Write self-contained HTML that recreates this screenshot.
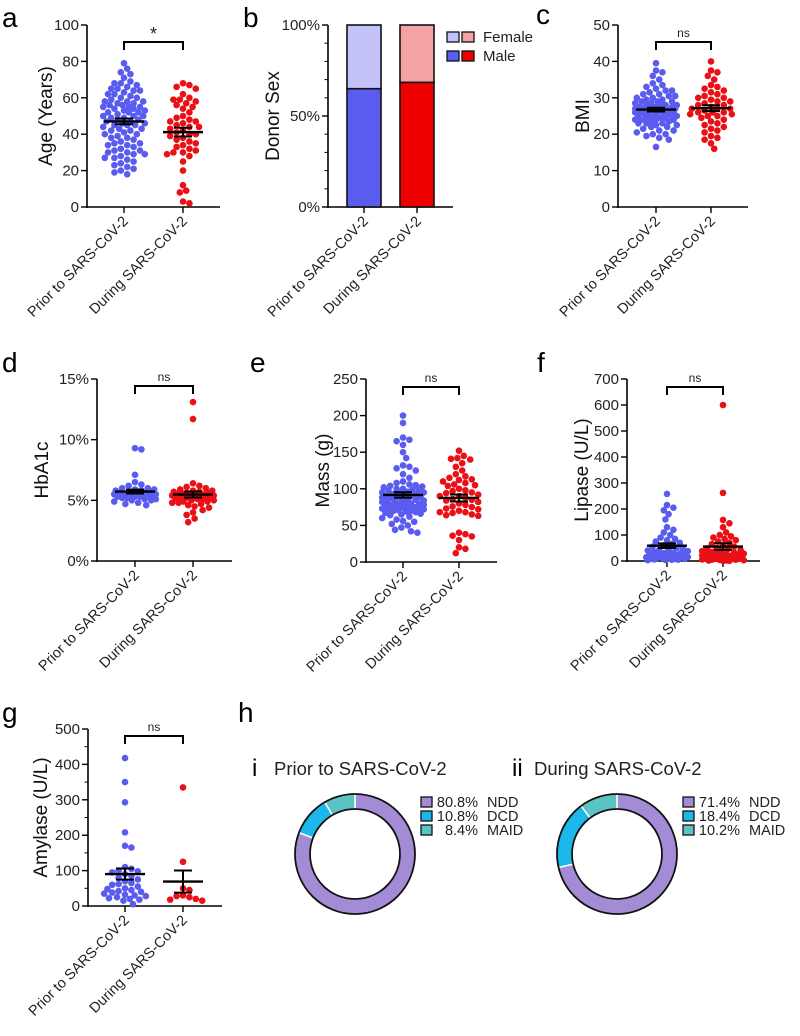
<!DOCTYPE html>
<html><head><meta charset="utf-8">
<style>
html,body{margin:0;padding:0;background:#fff;}
svg{display:block;font-family:"Liberation Sans",Arial,sans-serif;}
</style></head>
<body>
<svg id="fig" width="800" height="1036" viewBox="0 0 800 1036" xmlns="http://www.w3.org/2000/svg"></svg>
<script>
// ---- data ----
const categories = ["Prior to SARS-CoV-2", "During SARS-CoV-2"];
const ageBlue = [79,76,74,73,71,69,68,68,67,66,65,65,64,63,62,61,60,60,59,58,58,57,57,56,56,55,55,54,54,53,53,52,52,51,50,50,49,49,48,48,47,46,46,45,45,44,43,43,42,41,40,40,39,38,37,36,35,34,34,33,32,31,30,30,29,28,27,27,26,25,24,23,22,21,20,19,18,64,62,58,55,52,50,47,45,42,38,35,31,29];
const ageRed = [68,67,66,65,62,60,59,59,58,57,56,55,54,52,50,49,48,47,46,45,44,43,42,41,40,40,39,38,37,36,35,34,33,32,31,30,30,29,28,25,20,12,9,8,3,2,47,44];
const sexMale = [65, 68.5];
const sexFemale = [35, 31.5];
const bmiBlue = [39.5,37.5,37,36,35,34,33.5,33,32.5,32,32,31.5,31,31,30.5,30.5,30,30,29.5,29.5,29,29,29,28.5,28.5,28,28,28,27.5,27.5,27.5,27,27,27,27,26.5,26.5,26.5,26,26,26,26,25.5,25.5,25.5,25,25,25,24.5,24.5,24.5,24,24,24,23.5,23.5,23,23,22.5,22.5,22,22,21.5,21,21,20.5,20,20,19.5,19,18.5,16.5,28,27,26,25,24,23];
const bmiRed = [40,37.5,37,36,35,33.5,33,32.5,32,31.5,31,30.5,30,30,29.5,29,28.5,28,28,27.5,27,27,26.5,26,26,25.5,25.5,25,25,24.5,24,23.5,23,22.5,22,21.5,21,20.5,19.5,19,18.5,17.5,16,29,27,26];
const hbaBlue = [9.3,9.2,7.1,6.5,6.3,6.2,6.0,6.0,5.9,5.9,5.8,5.8,5.7,5.7,5.7,5.6,5.6,5.6,5.5,5.5,5.5,5.5,5.4,5.4,5.4,5.3,5.3,5.3,5.2,5.2,5.1,5.1,5.0,5.0,4.9,4.8,4.7,4.6];
const hbaRed = [13.1,11.7,6.4,6.2,6.1,6.0,5.9,5.8,5.8,5.7,5.7,5.6,5.6,5.5,5.5,5.5,5.4,5.4,5.4,5.3,5.3,5.3,5.2,5.2,5.2,5.1,5.1,5.0,5.0,4.9,4.9,4.8,4.8,4.7,4.6,4.5,4.4,4.2,4.0,3.8,3.5,3.2,5.6,5.4,5.2];
const massBlue = [200,190,170,167,165,160,150,142,132,130,128,125,120,115,110,108,106,105,104,103,102,100,100,99,98,97,96,95,94,93,92,91,90,90,89,88,87,86,85,85,84,83,82,81,80,80,79,78,77,76,75,75,74,73,72,72,71,70,70,69,68,67,66,65,64,62,60,58,56,55,52,50,47,44,42,40,95,88,82,78,74];
const massRed = [152,145,142,141,140,135,130,125,120,117,115,113,112,110,108,106,105,104,100,98,97,95,94,92,90,90,88,86,85,84,82,80,78,76,75,73,72,70,68,68,67,65,64,63,40,38,36,35,30,20,18,12];
const lipBlue = [258,215,205,195,180,160,130,120,110,100,90,85,80,75,70,65,60,55,50,48,45,42,40,38,35,32,30,28,26,25,22,20,18,16,15,14,12,10,10,8,8,6,5,5,4,3,25,20,15,12];
const lipRed = [600,262,158,145,130,110,100,95,90,85,80,75,70,65,60,55,50,48,45,42,40,38,35,32,30,28,26,25,22,20,18,16,15,14,12,10,10,8,8,6,5,5,4,3,2,2,1,1,30,25,20,15];
const amyBlue = [418,350,293,208,170,165,110,105,100,98,95,90,85,80,75,70,65,62,60,55,50,48,45,42,40,38,35,32,30,28,25,22,20,18,15,5];
const amyRed = [335,125,50,45,30,28,25,20,18,15];
const donutLabels = ["NDD","DCD","MAID"];
const donutPrior = [80.8,10.8,8.4];
const donutDuring = [71.4,18.4,10.2];
const ageTicks = [0,20,40,60,80,100];
const sexTicks = ["0%","50%","100%"];
const bmiTicks = [0,10,20,30,40,50];
const hbaTicks = ["0%","5%","10%","15%"];
const massTicks = [0,50,100,150,200,250];
const lipTicks = [0,100,200,300,400,500,600,700];
const amyTicks = [0,100,200,300,400,500];

const NS = "http://www.w3.org/2000/svg";
const svg = document.getElementById('fig');
const BLUE = "#5a5cf0", RED = "#ea1016";
function el(tag, attrs, parent, text) {
  const e = document.createElementNS(NS, tag);
  for (const k in attrs) e.setAttribute(k, attrs[k]);
  if (text !== undefined) e.textContent = text;
  (parent || svg).appendChild(e);
  return e;
}

function axes(g, cfg) {
  const ys = v => cfg.yBot - (v / cfg.max) * (cfg.yBot - cfg.yTop);
  const yax = el('line', {x1: cfg.x0, y1: cfg.yTop, x2: cfg.x0, y2: cfg.yBot + 1, stroke: '#000', 'stroke-width': 1.6}, g);
  
  
  const xax = el('line', {x1: cfg.x0, y1: cfg.yBot, x2: cfg.xEnd, y2: cfg.yBot, stroke: '#000', 'stroke-width': 1.6}, g);
  
  
  cfg.tickVals.forEach((v, i) => {
    const y = ys(v);
    el('line', {x1: cfg.x0 - 6, y1: y, x2: cfg.x0, y2: y, stroke: '#000', 'stroke-width': 1.4}, g);
    const t = el('text', {x: cfg.x0 - 8, y: y + 5, 'font-size': 15, 'text-anchor': 'end', fill: '#222'}, g, cfg.ticks[i]);
    
    
  });
  if (cfg.minor) {
    for (let v = 0; v <= cfg.max + 1e-9; v += cfg.minor) {
      el('line', {x1: cfg.x0 - 3.5, y1: ys(v), x2: cfg.x0, y2: ys(v), stroke: '#000', 'stroke-width': 1}, g);
    }
  }
  cfg.cats.forEach((cx, i) => {
    el('line', {x1: cx, y1: cfg.yBot, x2: cx, y2: cfg.yBot + 6, stroke: '#000', 'stroke-width': 1.4}, g);
    const lx = cx + 5, ly = cfg.yBot + 15;
    const t = el('text', {x: lx, y: ly, 'font-size': 14.5, 'text-anchor': 'end', fill: '#222', transform: `rotate(-45 ${lx} ${ly})`}, g, categories[i]);
    
    
  });
  const tt = el('text', {x: cfg.titleX, y: (cfg.yTop + cfg.yBot) / 2, 'font-size': 19, 'text-anchor': 'middle', fill: '#111', transform: `rotate(-90 ${cfg.titleX} ${(cfg.yTop + cfg.yBot) / 2})`}, g, cfg.title);
  
  
  const pl = el('text', {x: cfg.letterX, y: cfg.letterY, 'font-size': 28, fill: '#000'}, g, cfg.letter);
  
  
  return ys;
}

function swarm(g, vals, cx, ys, color) {
  const r = 3.3, placed = [], maxOff = 21;
  const order = vals.map((v, i) => i).sort((a, b) => vals[b] - vals[a]);
  order.forEach(i => {
    const y = ys(vals[i]);
    let best = 0, bestD = -1, found = false;
    for (let k = 0; k < 60; k++) {
      const cand = (k % 2 ? 1 : -1) * Math.ceil(k / 2) * 1.6;
      if (Math.abs(cand) > maxOff) break;
      let md = Infinity;
      placed.forEach(p => { const d = (p[0] - cand) ** 2 + (p[1] - y) ** 2; if (d < md) md = d; });
      if (md >= (2 * r * 0.92) ** 2) { best = cand; found = true; break; }
      if (md > bestD) { bestD = md; best = cand; }
    }
    placed.push([best, y]);
    const c = el('circle', {cx: cx + best, cy: y, r: r, fill: color}, g);
    
    
  });
  const n = vals.length, m = vals.reduce((a, b) => a + b, 0) / n;
  const sd = Math.sqrt(vals.reduce((a, b) => a + (b - m) ** 2, 0) / (n - 1));
  const se = sd / Math.sqrt(n);
  const ml = el('line', {x1: cx - 20, y1: ys(m), x2: cx + 20, y2: ys(m), stroke: '#000', 'stroke-width': 2.4}, g);
  
  
  el('line', {x1: cx, y1: ys(m + se), x2: cx, y2: ys(m - se), stroke: '#000', 'stroke-width': 2}, g);
  el('line', {x1: cx - 9, y1: ys(m + se), x2: cx + 9, y2: ys(m + se), stroke: '#000', 'stroke-width': 2}, g);
  el('line', {x1: cx - 9, y1: ys(m - se), x2: cx + 9, y2: ys(m - se), stroke: '#000', 'stroke-width': 2}, g);
}

function bracket(g, x1, x2, y, label) {
  const p = el('path', {d: `M${x1},${y + 8}V${y}H${x2}V${y + 8}`, fill: 'none', stroke: '#000', 'stroke-width': 2}, g);
  
  
  const t = el('text', {x: (x1 + x2) / 2, y: label === '*' ? y - 2 : y - 5, 'font-size': label === '*' ? 18 : 12, 'text-anchor': 'middle', fill: '#222'}, g, label);
  
  
}

function scatterPanel(name, cfg, blue, red) {
  const g = el('g', {});
  
  
  const ys = axes(g, cfg);
  swarm(g, blue, cfg.cats[0], ys, BLUE);
  swarm(g, red, cfg.cats[1], ys, RED);
  bracket(g, cfg.cats[0], cfg.cats[1], cfg.yTop + cfg.bracketOff, cfg.sig);
}

scatterPanel('panel-a-age', {x0: 87, xEnd: 220, yTop: 25, yBot: 207, max: 100, ticks: ageTicks, tickVals: ageTicks, cats: [124, 183], title: 'Age (Years)', titleX: 52, letter: 'a', letterX: 2, letterY: 27, bracketOff: 17, sig: '*'}, ageBlue, ageRed);
scatterPanel('panel-c-bmi', {x0: 618, xEnd: 748, yTop: 25, yBot: 207, max: 50, ticks: bmiTicks, tickVals: bmiTicks, cats: [656, 711], title: 'BMI', titleX: 589, letter: 'c', letterX: 536, letterY: 24, bracketOff: 17, sig: 'ns'}, bmiBlue, bmiRed);
scatterPanel('panel-d-hba1c', {x0: 97, xEnd: 232, yTop: 379, yBot: 561, max: 15, ticks: hbaTicks, tickVals: [0,5,10,15], cats: [135, 193], title: 'HbA1c', titleX: 48, letter: 'd', letterX: 2, letterY: 372, bracketOff: 7, sig: 'ns'}, hbaBlue, hbaRed);
scatterPanel('panel-e-mass', {x0: 366, xEnd: 497, yTop: 379, yBot: 562, max: 250, ticks: massTicks, tickVals: massTicks, cats: [403, 459], title: 'Mass (g)', titleX: 329, letter: 'e', letterX: 250, letterY: 372, bracketOff: 8, sig: 'ns'}, massBlue, massRed);
scatterPanel('panel-f-lipase', {x0: 627, xEnd: 760, yTop: 379, yBot: 561, max: 700, ticks: lipTicks, tickVals: lipTicks, cats: [667, 723], title: 'Lipase (U/L)', titleX: 588, letter: 'f', letterX: 537, letterY: 372, bracketOff: 8, sig: 'ns'}, lipBlue, lipRed);
scatterPanel('panel-g-amylase', {x0: 88, xEnd: 222, yTop: 729, yBot: 906, max: 500, ticks: amyTicks, tickVals: amyTicks, minor: 50, cats: [125, 183], title: 'Amylase (U/L)', titleX: 47, letter: 'g', letterX: 2, letterY: 722, bracketOff: 7, sig: 'ns'}, amyBlue, amyRed);

(function () {
  const g = el('g', {});
  
  
  const cfg = {x0: 328, xEnd: 453, yTop: 25, yBot: 207, max: 100, ticks: sexTicks, tickVals: [0,50,100], minor: 10, cats: [364, 417], title: 'Donor Sex', titleX: 279, letter: 'b', letterX: 243, letterY: 27};
  const ys = axes(g, cfg);
  const cols = [[BLUE, '#c3c3f9'], ['#ee0000', '#f4a3a3']];
  cfg.cats.forEach((cx, i) => {
    const m = el('rect', {x: cx - 17, y: ys(sexMale[i]), width: 34, height: ys(0) - ys(sexMale[i]), fill: cols[i][0], stroke: '#111', 'stroke-width': 1.6}, g);
    
    
    const f = el('rect', {x: cx - 17, y: ys(sexMale[i] + sexFemale[i]), width: 34, height: ys(sexMale[i]) - ys(sexMale[i] + sexFemale[i]), fill: cols[i][1], stroke: '#111', 'stroke-width': 1.6}, g);
    
    
  });
  [['Female', 1, 32], ['Male', 0, 51]].forEach(([lab, k, y]) => {
    const lg = el('g', {}, g);
    
    
    el('rect', {x: 447, y: y, width: 12, height: 10, fill: cols[0][k], stroke: '#111', 'stroke-width': 1.3}, lg);
    el('rect', {x: 462, y: y, width: 12, height: 10, fill: cols[1][k], stroke: '#111', 'stroke-width': 1.3}, lg);
    el('text', {x: 483, y: y + 10, 'font-size': 15, fill: '#222'}, lg, lab);
  });
})();

const hl = el('text', {x: 238, y: 722, 'font-size': 28, fill: '#000'}, svg, 'h');


const DCOLS = ['#a48bd6', '#1cb8ec', '#5cc3c5'];
function donut(name, vals, cx, cy, roman, rx, title, lx) {
  const g = el('g', {});
  
  
  const rl = el('text', {x: rx, y: 776, 'font-size': 24, fill: '#000'}, g, roman);
  
  
  const tt = el('text', {x: rx + 22, y: 775, 'font-size': 18.5, fill: '#222'}, g, title);
  
  
  const R = 60, r = 45;
  const total = vals.reduce((a, b) => a + b, 0);
  let a0 = 0;
  const pt = (rad, a) => [cx + rad * Math.sin(a), cy - rad * Math.cos(a)];
  vals.forEach((v, i) => {
    const a1 = a0 + v / total * 2 * Math.PI;
    const large = a1 - a0 > Math.PI ? 1 : 0;
    const [x1, y1] = pt(R, a0), [x2, y2] = pt(R, a1), [x3, y3] = pt(r, a1), [x4, y4] = pt(r, a0);
    const s = el('path', {d: `M${x1},${y1}A${R},${R} 0 ${large} 1 ${x2},${y2}L${x3},${y3}A${r},${r} 0 ${large} 0 ${x4},${y4}Z`, fill: DCOLS[i], stroke: '#fff', 'stroke-width': 1.5}, g);
    
    
    a0 = a1;
  });
  el('circle', {cx, cy, r: R, fill: 'none', stroke: '#111', 'stroke-width': 1.8}, g);
  el('circle', {cx, cy, r: r, fill: 'none', stroke: '#111', 'stroke-width': 1.8}, g);
  vals.forEach((v, i) => {
    const y = 797 + i * 14;
    const lg = el('g', {}, g);
    
    
    el('rect', {x: lx, y: y, width: 11, height: 10, fill: DCOLS[i], stroke: '#111', 'stroke-width': 1.3}, lg);
    el('text', {x: lx + 57, y: y + 10, 'font-size': 14.5, 'text-anchor': 'end', fill: '#222'}, lg, v.toFixed(1) + '%');
    el('text', {x: lx + 66, y: y + 10, 'font-size': 14.5, fill: '#222'}, lg, donutLabels[i]);
  });
}
donut('donut-prior', donutPrior, 355, 854, 'i', 252, 'Prior to SARS-CoV-2', 421);
donut('donut-during', donutDuring, 617, 854, 'ii', 512, 'During SARS-CoV-2', 683);
</script>
</body></html>
